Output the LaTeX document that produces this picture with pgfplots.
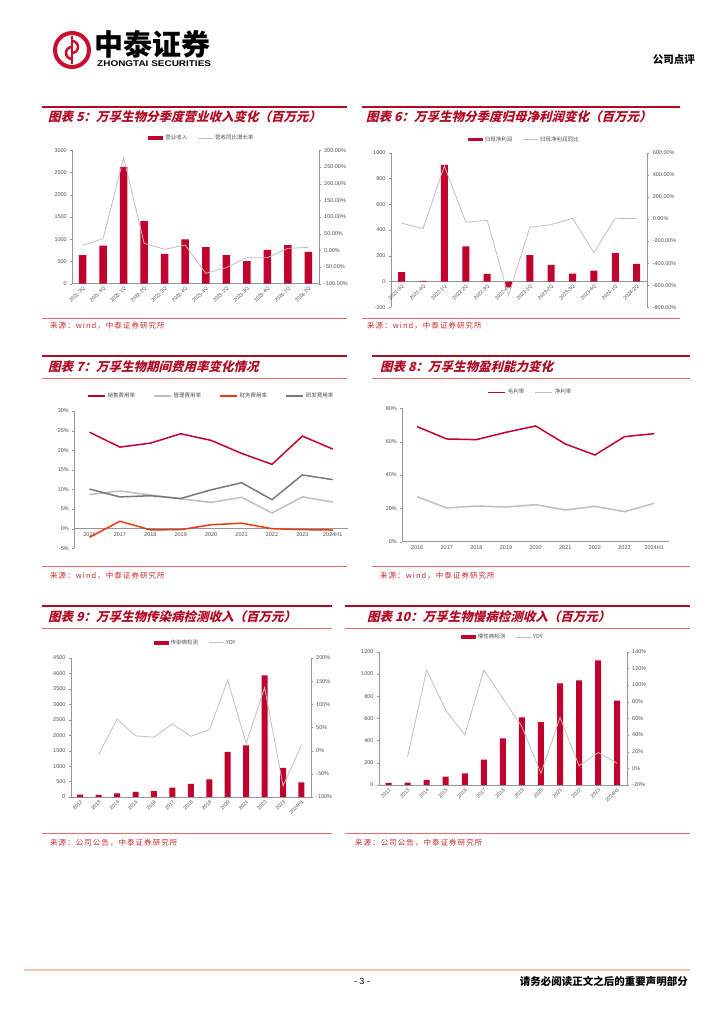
\documentclass[border=0pt]{standalone}
\usepackage{fontspec}
\setmainfont{Liberation Sans}
\newfontfamily\cjk{Noto Sans CJK SC}
\newfontfamily\cjkt{Noto Sans CJK SC}[FakeSlant=0.25]
\newfontfamily\cjks{Noto Sans CJK SC}[LetterSpace=14]
\usepackage{pgfplots}
\pgfplotsset{compat=1.18}
\definecolor{zred}{RGB}{192,0,45}
\definecolor{tred}{RGB}{175,10,35}
\definecolor{srcred}{RGB}{200,40,40}
\definecolor{thinred}{RGB}{225,110,110}
\definecolor{linegray}{RGB}{191,191,191}
\definecolor{dgray}{RGB}{120,120,120}
\definecolor{ored}{RGB}{230,60,20}
\definecolor{axgray}{RGB}{150,150,150}
\definecolor{txtgray}{RGB}{80,80,80}
\definecolor{logored}{RGB}{200,16,46}
\definecolor{footc}{RGB}{235,200,175}

\pgfplotsset{
  base/.style={scale only axis, anchor=south west, clip=false,
    axis line style={draw=axgray}, tick style={draw=axgray},
    major tick length=2pt, tick align=outside,
    tick label style={font=\fontsize{5.5}{6}\selectfont, text=txtgray},
    /pgf/number format/assume math mode=true,
    /pgf/number format/1000 sep={}},
  leg/.style={legend style={draw=none, fill=none,
    font=\cjk\fontsize{5.5}{6}\selectfont, text=txtgray,
    /tikz/every even column/.append style={column sep=8pt}}},
  barleg/.style={legend image code/.code={\fill[zred] (0pt,-1.8pt) rectangle (15pt,1.8pt);}},
  lineleg/.style={legend image code/.code={\draw[linegray,line width=0.8pt] (0pt,0pt) -- (15pt,0pt);}},
  pct2/.style={yticklabel={\pgfmathprintnumber[fixed,fixed zerofill,precision=2]{\tick}\%}},
  pct0/.style={yticklabel={\pgfmathprintnumber{\tick}\%}},
  rotlab/.style={xticklabel style={rotate=45, anchor=north east, inner sep=0.5pt, font=\fontsize{5}{5}\selectfont}},
}

\newcommand\charttitle[2]{\node[anchor=west, text=tred, inner sep=0pt] at #1 {\cjkt\bfseries\fontsize{12.5}{13}\selectfont #2};}
\newcommand\source[2]{\node[anchor=west, text=srcred, inner sep=0pt] at #1 {\cjks\fontsize{7.5}{8}\selectfont #2};}

\begin{document}
\begin{tikzpicture}[x=1pt,y=1pt]
\useasboundingbox[fill=white] (0,0) rectangle (724,1024);

% header
\draw[logored, line width=4pt] (72,974) circle (17);
\draw[logored, line width=2.8pt] (72,988) -- (72,960);
\draw[logored, line width=2.5pt] (72,977) arc (90:270:6) -- (72,965);
\draw[logored, line width=2.5pt] (72,971) arc (-90:90:6);
\node[anchor=west, inner sep=0pt] at (94,980) {\cjk\bfseries\fontsize{29}{29}\selectfont 中泰证券};
\node[anchor=west, inner sep=0pt, xscale=1.2] at (97,960) {\bfseries\fontsize{8.3}{9}\selectfont ZHONGTAI SECURITIES};
\node[anchor=east, inner sep=0pt] at (695,964) {\cjk\bfseries\fontsize{10.5}{11}\selectfont 公司点评};

% frames
\draw[tred, line width=1.6pt] (42,917) -- (347,917);
\draw[tred, line width=1.6pt] (362,917) -- (680,917);
\charttitle{(48,907)}{图表 5：万孚生物分季度营业收入变化（百万元）}
\charttitle{(366,907)}{图表 6：万孚生物分季度归母净利润变化（百万元）}
\draw[thinred, line width=0.8pt] (42,706) -- (347,706);
\draw[thinred, line width=0.8pt] (362,706) -- (680,706);
\source{(50,698)}{来源：wind，中泰证券研究所}
\source{(367,698)}{来源：wind，中泰证券研究所}

\draw[tred, line width=1.6pt] (42,668) -- (347,668);
\draw[tred, line width=1.6pt] (372,668) -- (690,668);
\charttitle{(48,657)}{图表 7：万孚生物期间费用率变化情况}
\charttitle{(380,657)}{图表 8：万孚生物盈利能力变化}
\draw[thinred, line width=0.8pt] (42,646) -- (347,646);
\draw[thinred, line width=0.8pt] (372,646) -- (690,646);
\draw[thinred, line width=0.8pt] (42,458) -- (347,458);
\draw[thinred, line width=0.8pt] (372,458) -- (690,458);
\source{(50,448)}{来源：wind，中泰证券研究所}
\source{(380,448)}{来源：wind，中泰证券研究所}

\draw[tred, line width=1.6pt] (42,418) -- (332,418);
\draw[tred, line width=1.6pt] (345,418) -- (690,418);
\charttitle{(48,407)}{图表 9：万孚生物传染病检测收入（百万元）}
\charttitle{(367,407)}{图表 10：万孚生物慢病检测收入（百万元）}
\draw[thinred, line width=0.8pt] (42,396) -- (332,396);
\draw[thinred, line width=0.8pt] (345,396) -- (690,396);
\draw[thinred, line width=0.8pt] (42,191) -- (332,191);
\draw[thinred, line width=0.8pt] (345,191) -- (690,191);
\source{(50,181)}{来源：公司公告，中泰证券研究所}
\source{(355,181)}{来源：公司公告，中泰证券研究所}

% footer
\draw[footc, line width=1.6pt] (24,54) -- (690,54);
\node[inner sep=0pt] at (362,43) {\fontsize{9}{10}\selectfont - 3 -};
\node[anchor=east, inner sep=0pt] at (688,43) {\cjk\bfseries\fontsize{10.5}{11}\selectfont 请务必阅读正文之后的重要声明部分};

% ---------- chart 5 ----------
\begin{axis}[base, leg, rotlab, at={(72.3pt,740.3pt)}, width=246.4pt, height=133.4pt,
  xmin=-0.5, xmax=11.5, ymin=0, ymax=3000, ytick={0,500,...,3000},
  axis y line*=left, axis x line*=bottom,
  xtick={0,...,11}, x tick style={draw=none},
  xticklabels={2021-3Q,2021-4Q,2022-1Q,2022-2Q,2022-3Q,2022-4Q,2023-1Q,2023-2Q,2023-3Q,2023-4Q,2024-1Q,2024-2Q},
  legend style={at={(0.526,1.09)}, anchor=center}, legend columns=2]
\addplot[ybar, bar width=7.5pt, fill=zred, draw=none, barleg] coordinates {
(0,645) (1,855) (2,2625) (3,1410) (4,668) (5,998) (6,825) (7,645) (8,510) (9,758) (10,870) (11,713)};
\addlegendentry{营业收入}
\addlegendimage{lineleg}
\addlegendentry{营收同比增长率}
\end{axis}
\begin{axis}[base, at={(72.3pt,740.3pt)}, width=246.4pt, height=133.4pt,
  xmin=-0.5, xmax=11.5, ymin=-100, ymax=300, ytick={-100,-50,...,300},
  axis y line*=right, axis x line=none, pct2]
\addplot[linegray, line width=0.8pt] coordinates {
(0,15) (1,35) (2,278) (3,21) (4,3) (5,16) (6,-69) (7,-52) (8,-22) (9,-22) (10,6) (11,9)};
\end{axis}

% ---------- chart 6 ----------
\begin{axis}[base, leg, rotlab, at={(391pt,716.7pt)}, width=256.3pt, height=154.6pt,
  xmin=-0.5, xmax=11.5, ymin=-200, ymax=1000, ytick={-200,0,...,1000},
  axis y line*=left, axis x line*=middle,
  xtick={0,...,11}, x tick style={draw=none},
  xticklabels={2021-3Q,2021-4Q,2022-1Q,2022-2Q,2022-3Q,2022-4Q,2023-1Q,2023-2Q,2023-3Q,2023-4Q,2024-1Q,2024-2Q},
  legend style={at={(0.52,1.085)}, anchor=center}, legend columns=2]
\addplot[ybar, bar width=7pt, fill=zred, draw=none, barleg] coordinates {
(0,72) (1,5) (2,905) (3,272) (4,60) (5,-44) (6,204) (7,129) (8,62) (9,85) (10,220) (11,137)};
\addlegendentry{归母净利润}
\addlegendimage{lineleg}
\addlegendentry{归母净利润同比}
\end{axis}
\begin{axis}[base, at={(391pt,716.7pt)}, width=256.3pt, height=154.6pt,
  xmin=-0.5, xmax=11.5, ymin=-800, ymax=600, ytick={-800,-600,...,600},
  axis y line*=right, axis x line=none, pct2]
\addplot[linegray, line width=0.8pt] coordinates {
(0,-39) (1,-87) (2,480) (3,-30) (4,-12) (5,-694) (6,-75) (7,-51) (8,6) (9,-305) (10,6) (11,3)};
\end{axis}

% ---------- chart 7 ----------
\begin{axis}[base, leg, at={(74.3pt,475.7pt)}, width=273.7pt, height=137.3pt,
  xmin=-0.5, xmax=8.5, ymin=-5, ymax=30, ytick={-5,0,...,30}, pct0,
  axis y line*=left, axis x line*=middle,
  xtick={0,...,8}, x tick style={draw=none},
  xticklabels={2016,2017,2018,2019,2020,2021,2022,2023,2024H1},
  xticklabel style={inner sep=2pt},
  legend style={at={(0.5,1.11)}, anchor=center,
    /tikz/every even column/.append style={column sep=16pt}}, legend columns=4]
\addplot[zred, line width=1.5pt] coordinates {
(0,24.6) (1,20.8) (2,21.8) (3,24.2) (4,22.5) (5,19.2) (6,16.4) (7,23.6) (8,20.3)};
\addlegendentry{销售费用率}
\addplot[linegray, line width=1.5pt] coordinates {
(0,8.7) (1,9.6) (2,8.6) (3,7.6) (4,6.7) (5,8.0) (6,4.0) (7,8.1) (8,6.8)};
\addlegendentry{管理费用率}
\addplot[ored, line width=1.5pt] coordinates {
(0,-2.2) (1,1.9) (2,-0.3) (3,-0.25) (4,1.0) (5,1.4) (6,0) (7,-0.25) (8,-0.35)};
\addlegendentry{财务费用率}
\addplot[dgray, line width=1.5pt] coordinates {
(0,10.1) (1,8.1) (2,8.4) (3,7.7) (4,9.9) (5,11.7) (6,7.4) (7,13.7) (8,12.5)};
\addlegendentry{研发费用率}
\end{axis}

% ---------- chart 8 ----------
\begin{axis}[base, leg, at={(402.3pt,482.3pt)}, width=266.7pt, height=133.4pt,
  xmin=-0.5, xmax=8.5, ymin=0, ymax=80, ytick={0,20,...,80}, pct0,
  axis y line*=left, axis x line*=bottom,
  xtick={0,...,8}, x tick style={draw=none},
  extra x ticks={-0.5,0.5,...,8.5}, extra x tick labels={},
  extra x tick style={tick style={draw=axgray}},
  xticklabels={2016,2017,2018,2019,2020,2021,2022,2023,2024H1},
  xticklabel style={inner sep=2pt},
  legend style={at={(0.48,1.12)}, anchor=center}, legend columns=2]
\addplot[zred, line width=1.5pt] coordinates {
(0,69) (1,61.6) (2,61.2) (3,65.6) (4,69.4) (5,58.6) (6,52) (7,63) (8,64.8)};
\addlegendentry{毛利率}
\addplot[linegray, line width=1.5pt] coordinates {
(0,27) (1,20.2) (2,21.4) (3,20.8) (4,22.2) (5,19) (6,21.2) (7,18) (8,23)};
\addlegendentry{净利率}
\end{axis}

% ---------- chart 9 ----------
\begin{axis}[base, leg, rotlab, at={(71pt,227pt)}, width=239.7pt, height=139pt,
  xmin=-0.5, xmax=12.5, ymin=0, ymax=4500, ytick={0,500,...,4500},
  axis y line*=left, axis x line*=bottom,
  xtick={0,...,12}, x tick style={draw=none},
  xticklabels={2012,2013,2014,2015,2016,2017,2018,2019,2020,2021,2022,2023,2024H1},
  legend style={at={(0.52,1.11)}, anchor=center}, legend columns=2]
\addplot[ybar, bar width=6pt, fill=zred, draw=none, barleg] coordinates {
(0,75) (1,65) (2,119) (3,162) (4,194) (5,302) (6,421) (7,572) (8,1457) (9,1673) (10,3939) (11,939) (12,475)};
\addlegendentry{传染病检测}
\addlegendimage{lineleg}
\addlegendentry{YOY}
\end{axis}
\begin{axis}[base, at={(71pt,227pt)}, width=239.7pt, height=139pt,
  xmin=-0.5, xmax=12.5, ymin=-100, ymax=200, ytick={-100,-50,...,200}, pct0,
  axis y line*=right, axis x line=none]
\addplot[linegray, line width=0.8pt] coordinates {
(1,-8) (2,68) (3,32) (4,29) (5,58) (6,31) (7,45) (8,152) (9,16) (10,136) (11,-76) (12,12)};
\end{axis}

% ---------- chart 10 ----------
\begin{axis}[base, leg, rotlab, at={(379pt,239pt)}, width=247.7pt, height=133.3pt,
  xmin=-0.5, xmax=12.5, ymin=0, ymax=1200, ytick={0,200,...,1200},
  axis y line*=left, axis x line*=bottom,
  xtick={0,...,12}, x tick style={draw=none},
  xticklabels={2012,2013,2014,2015,2016,2017,2018,2019,2020,2021,2022,2023,2024H1},
  legend style={at={(0.5,1.11)}, anchor=center}, legend columns=2]
\addplot[ybar, bar width=6pt, fill=zred, draw=none, barleg] coordinates {
(0,18) (1,21) (2,45) (3,75) (4,105) (5,228) (6,420) (7,609) (8,567) (9,915) (10,942) (11,1122) (12,759)};
\addlegendentry{慢性病检测}
\addlegendimage{lineleg}
\addlegendentry{YOY}
\end{axis}
\begin{axis}[base, at={(379pt,239pt)}, width=247.7pt, height=133.3pt,
  xmin=-0.5, xmax=12.5, ymin=-20, ymax=140, ytick={-20,0,...,140}, pct0,
  axis y line*=right, axis x line=none]
\addplot[linegray, line width=0.8pt] coordinates {
(1,14) (2,118) (3,70) (4,40) (5,118) (6,84) (7,50) (8,-6) (9,61) (10,3) (11,19) (12,6)};
\end{axis}
\end{tikzpicture}
\end{document}
